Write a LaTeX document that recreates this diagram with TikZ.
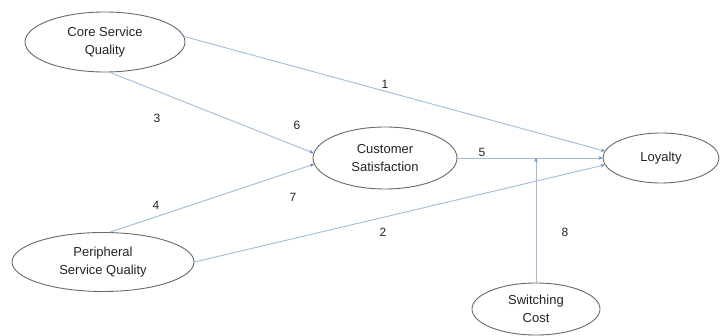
\documentclass[tikz,border=0pt]{standalone}
\usepackage{fontspec}
\setmainfont{Liberation Sans}
\usetikzlibrary{shapes.geometric,arrows.meta}
\definecolor{linec}{RGB}{160,188,218}
\definecolor{tipc}{RGB}{90,140,200}
\definecolor{edgec}{RGB}{105,105,105}
\definecolor{txtc}{RGB}{35,35,35}
\begin{document}
\begin{tikzpicture}[x=1pt,y=-1pt,
  var/.style={ellipse,draw=edgec,line width=0.9pt,inner sep=0pt,align=center,
    text=txtc,font=\fontsize{13}{18}\selectfont},
  path/.style={draw=linec,line width=0.9pt,-{Stealth[length=4pt,width=3.5pt,color=tipc]}},
  num/.style={text=txtc,font=\fontsize{12}{14}\selectfont,inner sep=0pt}]
\useasboundingbox (0,0) rectangle (721,336);
\node[var,minimum width=160pt,minimum height=60pt] (core) at (105,42) {Core Service\\Quality};
\node[var,minimum width=144pt,minimum height=62pt] (cs) at (385,158) {Customer\\Satisfaction};
\node[var,minimum width=116pt,minimum height=50pt] (loy) at (661,158) {Loyalty};
\node[var,minimum width=182pt,minimum height=59pt] (per) at (103,262) {Peripheral\\Service Quality};
\node[var,minimum width=128pt,minimum height=52pt] (sw) at (536,309) {Switching\\Cost};
\coordinate (j) at (536,158);
\draw[path] (core.4) -- (loy.173);
\draw[path] (core.-81) -- (cs.176);
\draw[path] (per.77) -- (cs.185);
\draw[path] (cs.east) -- (loy.west);
\draw[path] (per.east) -- (loy.187);
\draw[path] (sw.north) -- (j);
\node[num] (n1) at (385,84) {1};
\node[num] (n2) at (383,232) {2};
\node[num] (n3) at (157,118) {3};
\node[num] (n4) at (156,205) {4};
\node[num] (n5) at (482,152) {5};
\node[num] (n6) at (297,125) {6};
\node[num] (n7) at (293,197) {7};
\node[num] (n8) at (565,232) {8};
\end{tikzpicture}
\end{document}
